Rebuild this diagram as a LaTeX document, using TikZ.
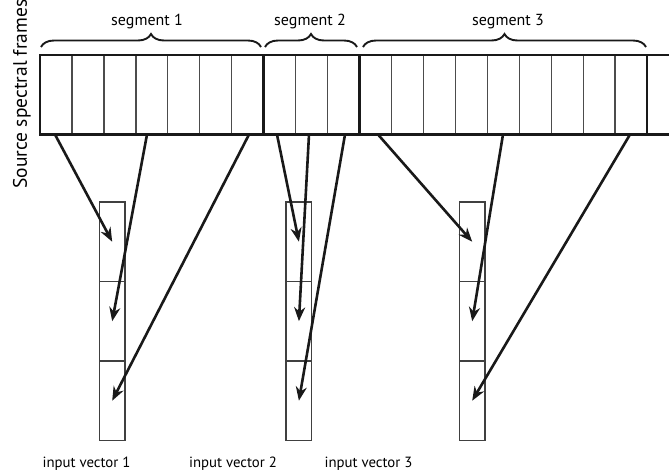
\documentclass[tikz,border=0pt]{standalone}
\usepackage{fontspec}
\setmainfont{PT Sans}
\usetikzlibrary{decorations.pathreplacing,arrows.meta}

\begin{document}
\begin{tikzpicture}[x=1pt,y=-1pt,
  frame/.style={draw=black!70, line width=1.3pt, minimum width=31.95pt,
    minimum height=79.5pt, inner sep=0pt, outer sep=0pt, anchor=north west},
  vcell/.style={draw=black!75, line width=1.3pt, minimum width=25.7pt,
    minimum height=79.5pt, inner sep=0pt, outer sep=0pt},
  border/.style={line width=2.8pt, black!90},
  link/.style={line width=2.6pt, black!90, -{Stealth[length=14pt,width=11pt]}},
  seg/.style={decorate, decoration={brace, amplitude=13pt}, line width=1.9pt, black!90},
  lbl/.style={font=\fontsize{16}{18}\selectfont, inner sep=0pt},
  vlbl/.style={font=\fontsize{14.8}{17}\selectfont, inner sep=0pt},
  axlbl/.style={font=\fontsize{19.5}{22}\selectfont, inner sep=0pt}
]
\useasboundingbox (0,0) rectangle (669,475);

% source frames: 19 cells in three segments
\foreach \i in {1,...,19}
  \node[frame] (f\i) at ({40+(\i-1)*31.95},55) {};
\coordinate (tl) at (40,55);
\coordinate (bl) at (40,134.5);
\coordinate (tr) at (669,55);
\coordinate (br) at (669,134.5);
\draw[border] (tr) -- (tl) -- (bl) -- (br);
\draw[border] (f7.north east) -- (f7.south east);
\draw[border] (f10.north east) -- (f10.south east);
\draw[border] (f19.north east) -- (f19.south east);

% segment braces and labels
\coordinate (b1l) at (41,47);  \coordinate (b1r) at (261,47);
\coordinate (b2l) at (265,47); \coordinate (b2r) at (357,47);
\coordinate (b3l) at (363,47); \coordinate (b3r) at (646,47);
\draw[seg] (b1l) -- (b1r);
\draw[seg] (b2l) -- (b2r);
\draw[seg] (b3l) -- (b3r);
\node[lbl, anchor=base] (s1) at (147,25) {segment 1};
\node[lbl, anchor=base] (s2) at (310,25) {segment 2};
\node[lbl, anchor=base] (s3) at (508,25) {segment 3};

\node[axlbl, rotate=90, anchor=base] (axis) at (27,94) {Source spectral frames};

% input vectors, three cells each
\foreach \v/\x in {a/112.2, b/298.9, c/472.2} {
  \node[vcell] (\v1) at (\x,241.7) {};
  \node[vcell] (\v2) at (\x,321.2) {};
  \node[vcell] (\v3) at (\x,400.7) {};
}
\node[vlbl, anchor=base] (in1) at (86.5,467) {input vector 1};
\node[vlbl, anchor=base] (in2) at (233,467) {input vector 2};
\node[vlbl, anchor=base] (in3) at (368.5,467) {input vector 3};

% sampling points on the lower edge of the frames
\foreach \n/\x in {p1/55, p2/147, p3/249, p4/277, p5/309, p6/345, p7/378, p8/503, p9/630}
  \coordinate (\n) at (\x,134.5);

\draw[link] (p1) -- (a1.center);
\draw[link] (p2) -- (a2.center);
\draw[link] (p3) -- (a3.center);
\draw[link] (p4) -- (b1.center);
\draw[link] (p5) -- (b2.center);
\draw[link] (p6) -- (b3.center);
\draw[link] (p7) -- (c1.center);
\draw[link] (p8) -- (c2.center);
\draw[link] (p9) -- (c3.center);
\end{tikzpicture}
\end{document}
